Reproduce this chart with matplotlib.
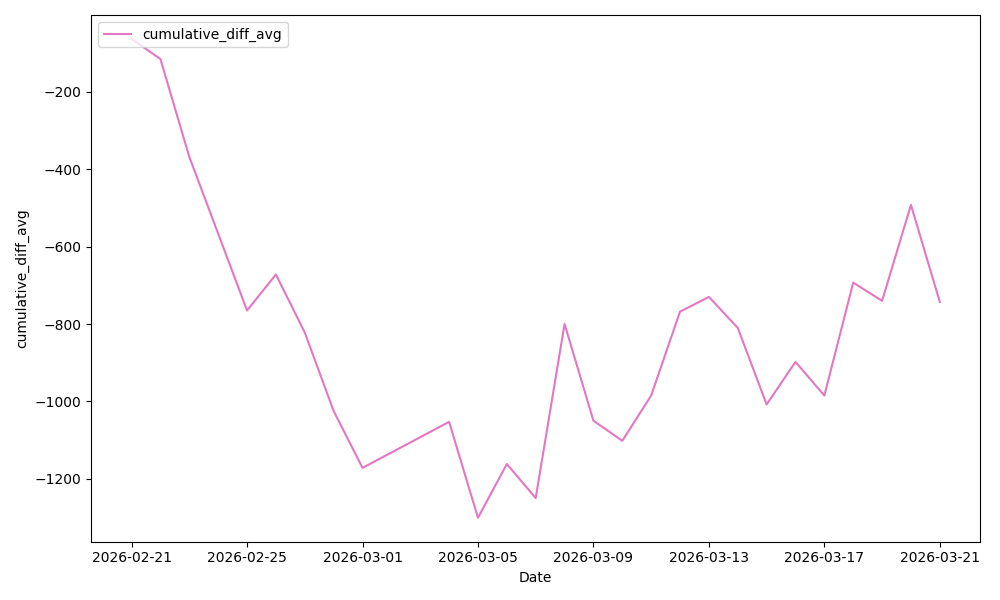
import matplotlib
matplotlib.use("Agg")
import matplotlib.pyplot as plt
import matplotlib.dates as mdates
import pandas as pd

dates = ["2026-02-21", "2026-02-22", "2026-02-23", "2026-02-25", "2026-02-26",
         "2026-02-27", "2026-02-28", "2026-03-01", "2026-03-04", "2026-03-05",
         "2026-03-06", "2026-03-07", "2026-03-08", "2026-03-09", "2026-03-10",
         "2026-03-11", "2026-03-12", "2026-03-13", "2026-03-14", "2026-03-15",
         "2026-03-16", "2026-03-17", "2026-03-18", "2026-03-19", "2026-03-20",
         "2026-03-21"]
cumulative_diff_avg = [-63, -115, -368, -765, -672,
                       -822, -1025, -1172, -1053, -1301,
                       -1162, -1250, -800, -1050, -1102,
                       -985, -768, -730, -810, -1008,
                       -898, -985, -693, -740, -492,
                       -743]

x = pd.to_datetime(dates)

fig, ax = plt.subplots(figsize=(10, 6), dpi=100)
ax.plot(x, cumulative_diff_avg, color="#e377c2", label="cumulative_diff_avg")
ax.set_xlabel("Date")
ax.set_ylabel("cumulative_diff_avg")
ax.xaxis.set_major_locator(mdates.DayLocator(bymonthday=[1, 5, 9, 13, 17, 21, 25]))
ax.xaxis.set_major_formatter(mdates.DateFormatter("%Y-%m-%d"))
ax.legend(loc="upper left")
fig.tight_layout()
fig.savefig("out.png")
